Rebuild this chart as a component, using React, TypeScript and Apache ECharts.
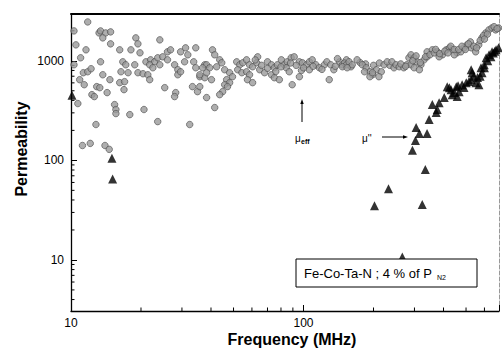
import React, { useEffect, useRef } from 'react';
import * as echarts from 'echarts';

// axis extents (log scales)
const X_MIN = 10;
const X_MAX = 693;
const Y_MIN = 3.07;
const Y_MAX = 2950;

const X_MINOR_TICKS = [20, 30, 40, 50, 60, 70, 80, 90, 200, 300, 400, 500, 600];
const Y_MINOR_TICKS = [4, 5, 6, 7, 8, 9, 20, 30, 40, 50, 60, 70, 80, 90, 200, 300, 400, 500, 600, 700, 800, 900, 2000];

// μ_eff : [frequency MHz, permeability]
const MU_EFF: [number, number][] = [
  [11.8, 2455], [10.3, 1995], [10.5, 1445], [11.6, 1288], [11.0, 1072], [10.3, 912], [11.3, 759], [11.8, 776],
  [12.2, 832], [10.9, 646], [11.4, 575], [10.7, 372], [13.2, 1905], [13.4, 1995], [14.1, 1905], [14.8, 1950],
  [13.7, 1698], [14.8, 1479], [13.4, 977], [13.7, 724], [14.7, 646], [12.9, 550], [13.3, 537], [12.3, 457],
  [12.6, 437], [14.3, 479], [15.4, 363], [15.6, 324], [15.6, 295], [12.8, 229], [11.2, 141], [12.1, 148],
  [14.0, 141], [14.6, 129], [16.2, 1288], [16.7, 977], [16.4, 776], [17.2, 912], [17.6, 759], [16.2, 603],
  [17.0, 617], [16.9, 513], [17.9, 288], [19.0, 1698], [19.4, 1479], [18.1, 1288], [19.8, 1202], [18.8, 912],
  [19.4, 759], [20.4, 741], [21.4, 724], [21.0, 977], [22.0, 1023], [22.9, 977], [21.8, 912], [22.5, 851],
  [24.1, 1622], [23.6, 1072], [24.8, 1096], [24.1, 912], [21.8, 646], [20.6, 324], [23.6, 245], [25.3, 537],
  [26.0, 1230], [26.8, 1288], [26.0, 1023], [27.9, 912], [28.8, 813], [28.8, 724], [29.6, 776], [28.2, 479],
  [27.9, 437], [29.6, 1230], [31.1, 1349], [31.8, 1148], [30.8, 977], [32.4, 229], [34.4, 1349], [33.7, 977],
  [34.4, 851], [35.8, 692], [33.3, 550], [35.0, 490], [37.6, 676], [37.6, 912],
  [40.6, 1288], [41.5, 1148], [43.6, 1023], [44.5, 955], [38.3, 912], [36.8, 851], [39.5, 851], [42.3, 871],
  [35.8, 724], [38.3, 759], [40.2, 646], [45.8, 813], [48.1, 759], [49.5, 692], [46.7, 646], [48.1, 603],
  [45.8, 575], [47.1, 550], [44.9, 490], [43.6, 457], [38.3, 427], [35.8, 550], [41.5, 339], [51.6, 977],
  [53.2, 912], [54.8, 955], [56.9, 1023], [58.6, 912], [60.4, 871], [52.1, 813], [54.3, 759], [56.9, 776],
  [58.6, 724], [57.4, 646], [60.4, 603], [63.5, 1096], [62.9, 955], [64.8, 813], [68.0, 759], [70.0, 977],
  [72.8, 912], [74.9, 851], [72.8, 724], [74.9, 676], [78.7, 646], [77.2, 912], [80.3, 1023], [82.7, 912],
  [85.1, 977], [88.5, 1072], [91.2, 1096], [84.3, 851], [86.8, 776], [96, 692], [89.4, 575], [96, 977],
  [98.9, 955], [103, 912], [106, 977], [109, 1023], [113, 912], [117, 851], [123, 912], [126, 977],
  [131, 912], [135, 813], [129, 646], [143, 977], [147, 912], [153, 1023], [106, 813],
  [62, 1020], [66, 900], [70, 840], [76, 780], [80, 870], [93, 900], [98, 800], [88, 950],
  [100, 850], [110, 880], [120, 820], [137, 880], [140, 1050], [150, 950], [160, 870], [175, 960],
  [185, 930], [200, 900], [212, 950], [235, 900], [245, 850],
  [153, 912], [157, 977], [162, 912], [170, 1023], [179, 912], [186, 851], [193, 776], [198, 724],
  [206, 813], [216, 776], [222, 912], [229, 977], [240, 977], [250, 912], [258, 871], [270, 851],
  [278, 912], [284, 1072], [290, 1148], [299, 1072], [308, 977], [320, 912], [330, 1023], [340, 1230],
  [358, 1288], [376, 1230], [396, 1148], [411, 1288], [424, 1349], [438, 1288], [457, 1202], [475, 1230],
  [490, 1349], [505, 1445], [522, 1549], [527, 1349], [550, 1230], [567, 1445], [585, 1698], [608, 1905],
  [627, 2042], [646, 2138], [670, 2042], [690, 2138], [183, 776], [193, 692], [211, 692], [198, 759],
  [290, 912], [299, 851], [315, 813], [340, 1096], [383, 1096], [445, 1148], [147, 871], [154, 851],
  [262, 930], [275, 880], [295, 1000], [305, 1120], [318, 960], [335, 1100], [350, 1150], [365, 1200],
  [370, 1300], [385, 1180], [405, 1250], [418, 1200], [430, 1400], [445, 1300], [465, 1300], [480, 1400],
  [497, 1300], [512, 1480], [540, 1400], [555, 1350], [575, 1600], [595, 1800], [618, 1850], [660, 2200],
  [680, 2100], [600, 1650],
];

// μ'' : [frequency MHz, permeability]
const MU_LOSS: [number, number][] = [
  [10.1, 450], [15.0, 105], [15.1, 65],
  [202, 35], [232, 52], [266, 10.7], [294, 126], [303, 158], [305, 214], [315, 186], [324, 36], [334, 81],
  [340, 186], [347, 257], [358, 363], [376, 324], [372, 302], [383, 380], [403, 427], [415, 550], [431, 513],
  [445, 479], [458, 437], [467, 490], [481, 575], [501, 603], [526, 646], [531, 759], [526, 813], [552, 603],
  [568, 575], [586, 759], [580, 851], [599, 912], [610, 1072], [628, 1148], [647, 1230], [673, 1288],
  [690, 1349], [454, 550], [424, 537], [436, 457], [462, 560], [540, 700], [560, 680], [600, 850],
  [640, 1100], [655, 1200], [620, 1000], [490, 540], [515, 620], [575, 700], [665, 1250],
];

const FONT = 'Liberation Sans, Arial, Helvetica, sans-serif';

function isPow10(v: number) {
  const l = Math.log10(v);
  return Math.abs(l - Math.round(l)) < 1e-6;
}

export default function App() {
  const ref = useRef<HTMLDivElement>(null);
  useEffect(() => {
    if (!ref.current) return;
    const chart = echarts.init(ref.current, undefined, { renderer: 'svg' });
    const option: any = {
      animation: false,
      backgroundColor: '#fff',
      grid: { left: 71, right: 2, top: 14, bottom: 43, containLabel: false },
      xAxis: [
        {
          type: 'log', logBase: 10, min: X_MIN, max: X_MAX, position: 'bottom',
          axisLine: { show: true, lineStyle: { color: '#000', width: 1.3 } },
          axisTick: { show: true, inside: true, length: 6, lineStyle: { color: '#000', width: 1 } },
          axisLabel: {
            margin: 6, fontSize: 12, color: '#000', fontFamily: FONT,
            formatter: (v: number) => (isPow10(v) ? String(Math.round(v)) : ''),
          },
          splitLine: { show: false },
        },
        {
          type: 'log', logBase: 10, min: X_MIN, max: X_MAX, position: 'top',
          axisLine: { show: true, lineStyle: { color: '#000', width: 2 } },
          axisTick: { show: false }, axisLabel: { show: false }, splitLine: { show: false },
        },
      ],
      yAxis: [
        {
          type: 'log', logBase: 10, min: Y_MIN, max: Y_MAX, position: 'left',
          axisLine: { show: true, lineStyle: { color: '#000', width: 1.3 } },
          axisTick: { show: true, inside: true, length: 6, lineStyle: { color: '#000', width: 1 } },
          axisLabel: {
            margin: 7, fontSize: 12, color: '#000', fontFamily: FONT,
            formatter: (v: number) => (isPow10(v) ? String(Math.round(v)) : ''),
          },
          splitLine: { show: false },
        },
        {
          type: 'log', logBase: 10, min: Y_MIN, max: Y_MAX, position: 'right',
          axisLine: { show: true, lineStyle: { color: '#999', width: 1, type: 'dashed' } },
          axisTick: { show: false }, axisLabel: { show: false }, splitLine: { show: false },
        },
      ],
      series: [
        {
          type: 'custom', xAxisIndex: 0, yAxisIndex: 0, silent: true, clip: false,
          data: X_MINOR_TICKS.map((v) => [v, Y_MIN]),
          renderItem: (_p: any, api: any) => {
            const pt = api.coord([api.value(0), Y_MIN]);
            return { type: 'line', shape: { x1: pt[0], y1: pt[1], x2: pt[0], y2: pt[1] - 3.5 }, style: { stroke: '#000', lineWidth: 1 } };
          },
        },
        {
          type: 'custom', xAxisIndex: 0, yAxisIndex: 0, silent: true, clip: false,
          data: Y_MINOR_TICKS.map((v) => [X_MIN, v]),
          renderItem: (_p: any, api: any) => {
            const pt = api.coord([X_MIN, api.value(1)]);
            return { type: 'line', shape: { x1: pt[0], y1: pt[1], x2: pt[0] + 3.5, y2: pt[1] }, style: { stroke: '#000', lineWidth: 1 } };
          },
        },
        {
          name: 'μeff', type: 'scatter', xAxisIndex: 0, yAxisIndex: 0,
          data: MU_EFF, symbol: 'circle', symbolSize: 6.5,
          itemStyle: { color: '#9a9a9a', borderColor: '#4a4a4a', borderWidth: 0.8 },
        },
        {
          name: "μ''", type: 'scatter', xAxisIndex: 0, yAxisIndex: 0,
          data: MU_LOSS, symbol: 'triangle', symbolSize: 9,
          itemStyle: { color: '#000' },
        },
      ],
      graphic: [
        {
          type: 'text', x: 292, y: 339, z: 100,
          style: { text: 'Frequency (MHz)', font: `bold 16px ${FONT}`, fill: '#000', align: 'center', verticalAlign: 'middle' },
        },
        {
          type: 'text', x: 21, y: 149, rotation: Math.PI / 2, z: 100,
          style: { text: 'Permeability', font: `bold 16px ${FONT}`, fill: '#000', align: 'center', verticalAlign: 'middle' },
        },
        { type: 'line', z: 100, shape: { x1: 302, y1: 122, x2: 302, y2: 103 }, style: { stroke: '#000', lineWidth: 1 } },
        { type: 'polygon', z: 100, shape: { points: [[302, 99], [300.3, 104], [303.7, 104]] }, style: { fill: '#000' } },
        { type: 'text', x: 295, y: 138, z: 100, style: { text: 'μ', font: `10px ${FONT}`, fill: '#000', align: 'left', verticalAlign: 'middle' } },
        { type: 'text', x: 301, y: 141, z: 100, style: { text: 'eff', font: `bold 7px ${FONT}`, fill: '#000', align: 'left', verticalAlign: 'middle' } },
        { type: 'text', x: 362, y: 138, z: 100, style: { text: "μ''", font: `10px ${FONT}`, fill: '#000', align: 'left', verticalAlign: 'middle' } },
        { type: 'line', z: 100, shape: { x1: 382, y1: 137, x2: 404, y2: 137 }, style: { stroke: '#000', lineWidth: 1 } },
        { type: 'polygon', z: 100, shape: { points: [[408, 137], [403, 135.3], [403, 138.7]] }, style: { fill: '#000' } },
        {
          type: 'rect', z: 100, shape: { x: 296, y: 259, width: 181, height: 28 },
          style: { fill: '#fff', stroke: '#000', lineWidth: 1 },
        },
        { type: 'text', x: 304, y: 273, z: 101, style: { text: 'Fe-Co-Ta-N ; 4 % of P', font: `13px ${FONT}`, fill: '#000', align: 'left', verticalAlign: 'middle' } },
        { type: 'text', x: 437, y: 277, z: 101, style: { text: 'N2', font: `7px ${FONT}`, fill: '#000', align: 'left', verticalAlign: 'middle' } },
      ],
    };
    chart.setOption(option);
    return () => chart.dispose();
  }, []);
  return (
    <div
      ref={ref}
      style={{ position: 'fixed', left: 0, top: 0, width: 502, height: 354, background: '#fff' }}
    />
  );
}
